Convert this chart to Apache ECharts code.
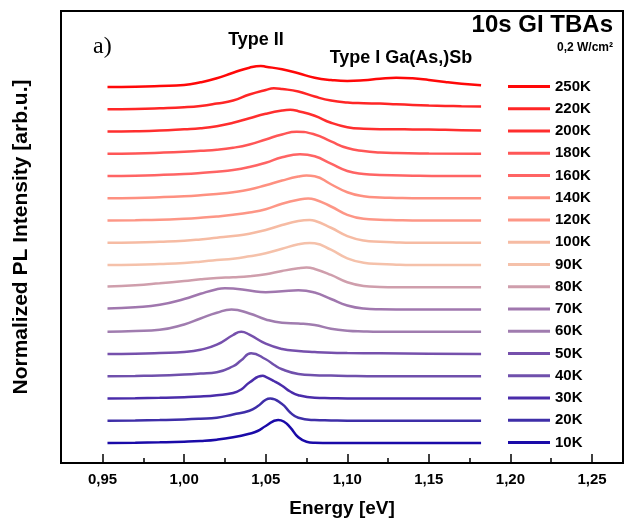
<!DOCTYPE html>
<html>
<head>
<meta charset="utf-8">
<script src="https://cdn.jsdelivr.net/npm/echarts@6/dist/echarts.min.js"></script>
<style>
  html, body { margin: 0; padding: 0; background: #fff; }
  #chart { width: 637px; height: 525px; }
</style>
</head>
<body>
<div id="chart"></div>
<script>
// temperatures, bottom (10K) to top (250K)
const temps = ['10K', '20K', '30K', '40K', '50K', '60K', '70K', '80K', '90K',
  '100K', '120K', '140K', '160K', '180K', '200K', '220K', '250K'];

// PL spectra: [energy eV, intensity arb.u.]
const pl10K = [[0.953, 0], [0.97, 0.3], [0.985, 0.7], [1.0, 1.3], [1.01, 2], [1.02, 3.3], [1.03, 5.7],
  [1.04, 9.3], [1.045, 12], [1.05, 17], [1.0576, 23], [1.061, 21.5], [1.065, 15.7], [1.07, 5.7],
  [1.075, 1.3], [1.08, 0.3], [1.09, 0], [1.182, 0]];
const pl20K = [[0.953, 0], [0.97, 0.3], [0.985, 0.7], [1.0, 1.3], [1.01, 2], [1.02, 3], [1.03, 6.3],
  [1.04, 10], [1.045, 14.5], [1.05, 21], [1.0528, 22.3], [1.06, 16.7], [1.065, 8.3], [1.07, 3],
  [1.08, 0.7], [1.09, 0.3], [1.1, 0], [1.182, 0]];
const pl30K = [[0.953, 0], [0.97, 0.3], [0.985, 0.7], [1.0, 1.3], [1.01, 2], [1.02, 3.3], [1.03, 5.5],
  [1.035, 9], [1.04, 16], [1.0482, 22.7], [1.05, 21.7], [1.055, 17.5], [1.06, 12.7], [1.065, 7],
  [1.07, 3.3], [1.08, 0.7], [1.09, 0.3], [1.1, 0], [1.182, 0]];
const pl40K = [[0.953, 0], [0.97, 0.3], [0.985, 0.7], [1.0, 1.7], [1.01, 2.7], [1.02, 4], [1.03, 10],
  [1.035, 16], [1.041, 23], [1.05, 17], [1.055, 11.5], [1.06, 7], [1.07, 2.3], [1.08, 1], [1.09, 0.7],
  [1.1, 0.3], [1.12, 0], [1.182, 0]];
const pl50K = [[0.953, 0], [0.97, 0.3], [0.985, 1], [1.0, 2], [1.01, 4.3], [1.02, 9.3], [1.03, 19],
  [1.035, 22.3], [1.04, 19.3], [1.05, 10.3], [1.06, 5], [1.07, 3], [1.08, 2], [1.09, 1.3], [1.1, 1],
  [1.12, 0.7], [1.15, 0.3], [1.182, 0]];
const pl60K = [[0.953, 0], [0.97, 0.7], [0.985, 2], [1.0, 7.3], [1.01, 13.3], [1.02, 19], [1.029, 22.3],
  [1.04, 18.3], [1.05, 12.3], [1.06, 9], [1.07, 8.3], [1.08, 6.7], [1.09, 3], [1.1, 1], [1.11, 0.3],
  [1.12, 0], [1.182, 0]];
const pl70K = [[0.953, 1], [0.97, 2.3], [0.985, 4.7], [1.0, 10.5], [1.01, 15.7], [1.02, 20.3], [1.025, 21.3],
  [1.03, 21], [1.04, 19], [1.05, 17.3], [1.06, 18.3], [1.07, 19.3], [1.08, 17], [1.09, 10.5], [1.1, 4],
  [1.11, 1], [1.12, 0.3], [1.14, 0], [1.182, 0]];
const pl80K = [[0.953, 0.7], [0.97, 2], [0.985, 4], [1.0, 6.3], [1.01, 8], [1.02, 9.3], [1.03, 10],
  [1.04, 11], [1.05, 13], [1.06, 16.3], [1.07, 19], [1.075, 19.7], [1.08, 18.3], [1.09, 12.3], [1.1, 5],
  [1.11, 1.3], [1.12, 0.3], [1.13, 0], [1.182, 0]];
const pl90K = [[0.953, 0], [0.97, 0.3], [0.985, 1], [1.0, 2], [1.01, 3.3], [1.02, 5], [1.03, 6.3],
  [1.04, 8.7], [1.05, 11.7], [1.06, 16.3], [1.07, 20.7], [1.077, 22], [1.08, 21.7], [1.09, 15.3],
  [1.1, 6.7], [1.11, 2.3], [1.12, 1], [1.13, 0.3], [1.14, 0], [1.182, 0]];
const pl100K = [[0.953, 0], [0.97, 0.3], [0.985, 1], [1.0, 2], [1.01, 3.3], [1.02, 5], [1.03, 6.7],
  [1.04, 9], [1.05, 12.7], [1.06, 17.7], [1.07, 21.7], [1.077, 22.7], [1.08, 22], [1.09, 15],
  [1.1, 6.7], [1.11, 2.3], [1.12, 1], [1.13, 0.3], [1.14, 0], [1.182, 0]];
const pl120K = [[0.953, 0], [0.97, 0.3], [0.985, 0.7], [1.0, 1.7], [1.01, 2.7], [1.02, 4], [1.03, 5.7],
  [1.04, 8], [1.05, 11.3], [1.06, 16.7], [1.07, 20.7], [1.076, 22], [1.08, 21], [1.09, 14],
  [1.1, 5.7], [1.11, 1.7], [1.12, 0.7], [1.13, 0.3], [1.14, 0], [1.182, 0]];
const pl140K = [[0.953, 0], [0.97, 0.3], [0.985, 1], [1.0, 2], [1.01, 3], [1.02, 4.3], [1.03, 6],
  [1.04, 8.7], [1.05, 13], [1.06, 17.7], [1.07, 21.7], [1.075, 22.7], [1.08, 22], [1.09, 14],
  [1.1, 6], [1.11, 2], [1.12, 0.7], [1.13, 0.3], [1.14, 0], [1.182, 0]];
const pl160K = [[0.953, 0], [0.97, 0.3], [0.985, 1], [1.0, 2], [1.01, 3], [1.02, 4.3], [1.03, 6],
  [1.04, 9], [1.05, 13.3], [1.06, 18.7], [1.071, 21.7], [1.08, 19.7], [1.09, 12.3], [1.1, 5],
  [1.11, 2], [1.12, 1], [1.14, 0.3], [1.16, 0], [1.182, 0]];
const pl180K = [[0.953, 0], [0.97, 0.3], [0.985, 1], [1.0, 2], [1.01, 3], [1.02, 4], [1.03, 6],
  [1.04, 9.3], [1.05, 14.3], [1.06, 19.3], [1.069, 22], [1.08, 19.3], [1.09, 12.3], [1.1, 5.7],
  [1.11, 2.7], [1.12, 1.3], [1.13, 0.7], [1.15, 0.3], [1.182, 0]];
const pl200K = [[0.953, 0], [0.97, 0.3], [0.985, 1], [1.0, 2.3], [1.01, 3.3], [1.02, 5.3], [1.03, 8.7],
  [1.04, 13.3], [1.05, 17.7], [1.06, 21], [1.065, 21.7], [1.07, 20.3], [1.08, 15.7], [1.09, 8.7],
  [1.1, 4.3], [1.11, 2.7], [1.12, 2.3], [1.13, 2.3], [1.14, 2], [1.15, 2], [1.16, 1.7], [1.17, 1.3],
  [1.182, 1]];
const pl220K = [[0.953, 0], [0.97, 0.3], [0.985, 1], [1.0, 2], [1.01, 3.3], [1.02, 5.7], [1.03, 8.7],
  [1.04, 14.7], [1.05, 19.3], [1.055, 21], [1.06, 20.3], [1.07, 17.7], [1.08, 12.7], [1.09, 8.7],
  [1.1, 6.7], [1.11, 6], [1.12, 5.7], [1.13, 5], [1.14, 4.3], [1.15, 3.7], [1.16, 3.3], [1.17, 3],
  [1.182, 2.7]];
const pl250K = [[0.953, 0], [0.97, 0.3], [0.985, 1], [1.0, 2], [1.01, 4.7], [1.02, 8.7], [1.03, 14.3],
  [1.04, 19.3], [1.047, 21], [1.05, 20.3], [1.06, 17.7], [1.07, 13.7], [1.08, 9.3], [1.09, 7],
  [1.1, 6], [1.11, 6.7], [1.12, 8.3], [1.13, 9.3], [1.14, 8.7], [1.15, 7], [1.16, 5], [1.17, 3.3],
  [1.182, 1.7]];

const spectra = [pl10K, pl20K, pl30K, pl40K, pl50K, pl60K, pl70K, pl80K, pl90K,
  pl100K, pl120K, pl140K, pl160K, pl180K, pl200K, pl220K, pl250K];

// vertical shift between stacked spectra (arb.u.)
const offsetStep = 22.25;

const colors = ['#1a0aa8', '#3e2ea8', '#4a2caa', '#7050ac', '#7650ac', '#a07caf', '#a077ae', '#cf9eac', '#f5c1aa',
  '#f6bba3', '#fd9686', '#fe9080', '#ff6464', '#ff5656', '#ff2e2e', '#ff2626', '#ff0808'];

const xTicks = [0.95, 1.0, 1.05, 1.1, 1.15, 1.2, 1.25];
const xMinorTicks = [0.975, 1.025, 1.075, 1.125, 1.175, 1.225];

const fontFamily = '"Liberation Sans", Arial, sans-serif';

const myChart = echarts.init(document.getElementById('chart'));

myChart.setOption({
  animation: false,
  color: colors,
  grid: {
    left: 61,
    right: 14,
    top: 11,
    bottom: 62,
    show: true,
    borderColor: '#000',
    borderWidth: 2,
    backgroundColor: 'transparent'
  },
  xAxis: [
    {
      type: 'value',
      min: 0.9245,
      max: 1.269,
      name: 'Energy [eV]',
      nameLocation: 'middle',
      nameGap: 36,
      nameTextStyle: { color: '#000', fontFamily, fontWeight: 'bold', fontSize: 19 },
      axisLine: { onZero: false, lineStyle: { color: '#000', width: 2 } },
      axisTick: { inside: true, length: 9, lineStyle: { color: '#000', width: 1.5 }, customValues: xTicks },
      axisLabel: {
        customValues: xTicks,
        margin: 9,
        color: '#000',
        fontFamily,
        fontWeight: 'bold',
        fontSize: 15,
        formatter: (v) => v.toFixed(2).replace('.', ',')
      },
      splitLine: { show: false }
    },
    {
      // minor ticks only
      type: 'value',
      position: 'bottom',
      min: 0.9245,
      max: 1.269,
      axisLine: { show: false, onZero: false },
      axisTick: { inside: true, length: 5, lineStyle: { color: '#000', width: 1.5 }, customValues: xMinorTicks },
      axisLabel: { show: false },
      splitLine: { show: false }
    }
  ],
  yAxis: {
    type: 'value',
    min: -20,
    max: 432,
    name: 'Normalized PL Intensity [arb.u.]',
    nameLocation: 'middle',
    nameRotate: 90,
    nameGap: 29,
    nameTextStyle: { color: '#000', fontFamily, fontWeight: 'bold', fontSize: 21 },
    axisLine: { show: false, onZero: false },
    axisTick: { show: false },
    axisLabel: { show: false },
    splitLine: { show: false }
  },
  legend: {
    orient: 'vertical',
    left: 503,
    top: 73,
    itemWidth: 42,
    itemHeight: 3,
    itemGap: 5.25,
    icon: 'rect',
    data: temps.slice().reverse(),
    textStyle: { color: '#000', fontFamily, fontWeight: 'bold', fontSize: 15, lineHeight: 17 },
    selectedMode: false
  },
  graphic: [
    { type: 'text', style: { text: 'a)', x: 93, y: 47, verticalAlign: 'middle', font: '24px "Liberation Serif", serif', fill: '#000' } },
    { type: 'text', style: { text: 'Type II', x: 256, y: 40, align: 'center', verticalAlign: 'middle', font: 'bold 18px ' + fontFamily, fill: '#000' } },
    { type: 'text', style: { text: 'Type I Ga(As,)Sb', x: 401, y: 58, align: 'center', verticalAlign: 'middle', font: 'bold 18px ' + fontFamily, fill: '#000' } },
    { type: 'text', style: { text: '10s GI TBAs', x: 613, y: 25, align: 'right', verticalAlign: 'middle', font: 'bold 24px ' + fontFamily, fill: '#000' } },
    { type: 'text', style: { text: '0,2 W/cm²', x: 613, y: 48, align: 'right', verticalAlign: 'middle', font: 'bold 12px ' + fontFamily, fill: '#000' } }
  ],
  series: spectra.map((pts, i) => ({
    name: temps[i],
    type: 'line',
    showSymbol: false,
    smooth: 0.5,
    lineStyle: { width: 2.5, color: colors[i] },
    itemStyle: { color: colors[i] },
    data: pts.map(p => [p[0], p[1] + i * offsetStep])
  }))
});

window.addEventListener('resize', () => { myChart.resize(); });
</script>
</body>
</html>
